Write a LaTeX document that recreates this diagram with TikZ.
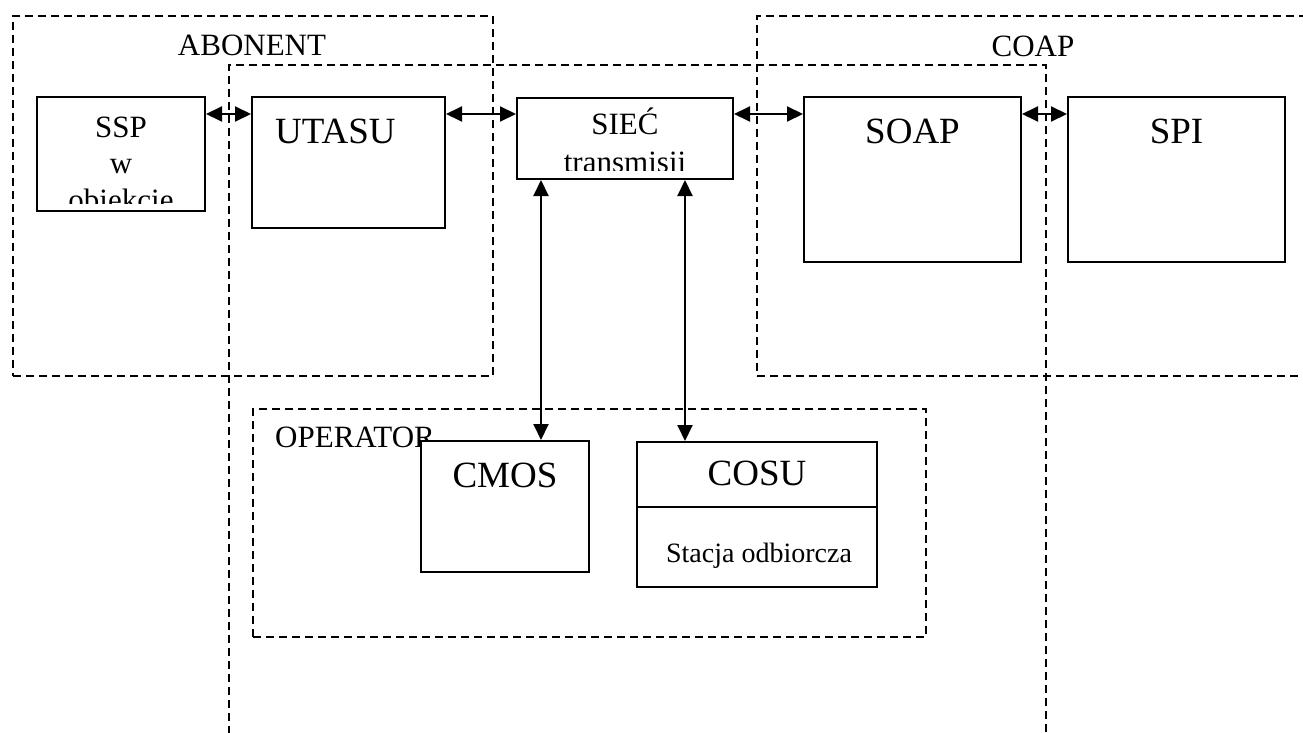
\documentclass[tikz,border=0pt]{standalone}
\usepackage{fontspec}
\setmainfont{Liberation Serif}
\usetikzlibrary{arrows.meta}
\tikzset{
  box/.style={draw, line width=2pt, fill=white, rectangle, inner sep=0pt},
  group/.style={draw, line width=1.8pt, dash pattern=on 8pt off 5pt, rectangle, inner sep=0pt},
  arr/.style={line width=2pt, {Triangle[length=16pt,width=15pt]}-{Triangle[length=16pt,width=15pt]}},
  txt/.style={inner sep=0pt, anchor=base, font=\fontsize{31}{35}\selectfont},
  big/.style={inner sep=0pt, anchor=base, font=\fontsize{37}{42}\selectfont},
  small/.style={inner sep=0pt, anchor=base, font=\fontsize{28}{32}\selectfont},
}
\begin{document}
\begin{tikzpicture}[x=1pt,y=-1pt]
\useasboundingbox (0,0) rectangle (1303,733);
\clip (0,0) rectangle (1303,733);
% dashed groups
\node[group, minimum width=480, minimum height=360] (abonent) at (253,196) {};
\node[group, minimum width=563, minimum height=360] (coap) at (1038.5,196) {};
\node[group, minimum width=817, minimum height=695] (centre) at (637.5,412.5) {};
\node[group, minimum width=673, minimum height=228] (operator) at (589.5,523) {};
% group labels
\node[txt] (labab) at (252,56) {ABONENT};
\node[txt] (labcoap) at (1033,57) {COAP};
\node[txt, anchor=base west] (labop) at (275,447) {OPERATOR};
% boxes
\node[box, minimum width=168, minimum height=114] (ssp) at (121,154) {};
\node[box, minimum width=193, minimum height=131] (utasu) at (348.5,162.5) {};
\node[box, minimum width=216, minimum height=81] (siec) at (625,138.5) {};
\node[box, minimum width=217, minimum height=165] (soap) at (912.5,179.5) {};
\node[box, minimum width=217, minimum height=165] (spi) at (1176.5,179.5) {};
\node[box, minimum width=168, minimum height=131] (cmos) at (505,506.5) {};
\node[box, minimum width=240, minimum height=145] (cosu) at (757,514.5) {};
\coordinate (div) at (0,507);
\draw[line width=2pt] (cosu.west |- div) -- (cosu.east |- div);
% connectors
\coordinate (hy) at (0,114);
\coordinate (v1) at (541,0);
\coordinate (v2) at (685,0);
\draw[arr] (ssp.east |- hy) -- (utasu.west |- hy);
\draw[arr] (utasu.east |- hy) -- (siec.west |- hy);
\draw[arr] (siec.east |- hy) -- (soap.west |- hy);
\draw[arr] (soap.east |- hy) -- (spi.west |- hy);
\draw[arr] (siec.south -| v1) -- (cmos.north -| v1);
\draw[arr] (siec.south -| v2) -- (cosu.north -| v2);
% box texts
\node[txt] (t1) at (121,137) {SSP};
\node[txt] (t2) at (121,173) {w};
\begin{scope}
\clip (37,97) rectangle (205,203);
\node[txt] (t3) at (121,210) {obiekcie};
\end{scope}
\node[big, anchor=base west] (t4) at (275,143) {UTASU};
\node[txt] (t5) at (625,135) {SIEĆ};
\begin{scope}
\clip (517,98) rectangle (733,170);
\node[txt] (t6) at (625,172) {transmisji};
\end{scope}
\node[big] (t7) at (912.5,143) {SOAP};
\node[big] (t8) at (1176.5,143) {SPI};
\node[big] (t9) at (505,487) {CMOS};
\node[big] (t10) at (757,485) {COSU};
\node[small] (t11) at (759,562) {Stacja odbiorcza};
\end{tikzpicture}
\end{document}
